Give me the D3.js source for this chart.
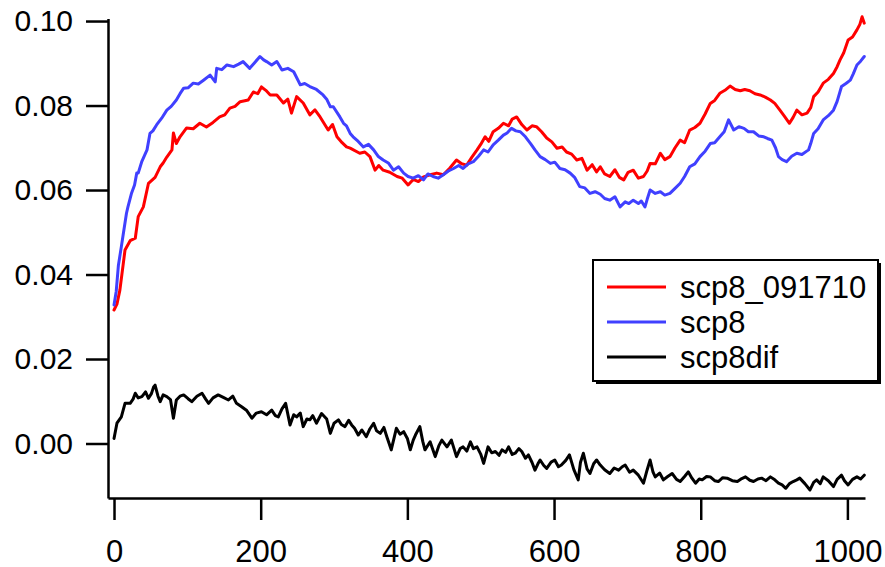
<!DOCTYPE html>
<html>
<head>
<meta charset="utf-8">
<script src="https://cdn.jsdelivr.net/npm/d3@7"></script>
<style>
  body { margin: 0; background: #fff; }
  svg { display: block; }
  text { font-family: "Liberation Sans", Arial, sans-serif; }
</style>
</head>
<body>
<svg id="chart" width="885" height="567"></svg>
<script>
// [x, value]
var scp8_091710 = [[0,0.0316],[4,0.033],[8,0.0363],[15,0.0458],[22,0.048],[29,0.0486],[33,0.0537],[40,0.056],[47,0.0616],[56,0.063],[63,0.0655],[67,0.0664],[72,0.0678],[79,0.0695],[81,0.0735],[85,0.071],[90,0.0726],[99,0.0747],[108,0.0745],[117,0.0758],[126,0.0749],[135,0.076],[144,0.0773],[151,0.0778],[158,0.0794],[165,0.0798],[172,0.0809],[183,0.0813],[190,0.0832],[196,0.0828],[201,0.0844],[207,0.0836],[213,0.0825],[222,0.0825],[231,0.0806],[237,0.0815],[242,0.0782],[249,0.0821],[258,0.0806],[267,0.0778],[274,0.079],[281,0.0773],[292,0.0742],[298,0.0755],[304,0.0726],[311,0.0712],[317,0.0702],[322,0.0699],[335,0.0687],[342,0.069],[349,0.0679],[356,0.0647],[361,0.0658],[367,0.0647],[376,0.0642],[386,0.0632],[393,0.0628],[401,0.0612],[408,0.0625],[415,0.062],[422,0.0631],[431,0.0636],[440,0.064],[449,0.0636],[458,0.0652],[467,0.0671],[474,0.0662],[481,0.0659],[488,0.0678],[495,0.0695],[500,0.0708],[506,0.0726],[511,0.0715],[517,0.0738],[524,0.0746],[531,0.0758],[538,0.0752],[543,0.0768],[549,0.0773],[556,0.0755],[563,0.0742],[570,0.0752],[576,0.075],[583,0.0738],[590,0.0723],[597,0.0714],[604,0.0699],[611,0.0702],[617,0.069],[624,0.0685],[631,0.0671],[638,0.0675],[645,0.0647],[652,0.066],[658,0.0643],[663,0.0655],[669,0.0638],[676,0.0632],[683,0.0648],[689,0.063],[695,0.0624],[701,0.0642],[708,0.0647],[715,0.0628],[722,0.0632],[727,0.0645],[731,0.0663],[738,0.0662],[745,0.0687],[751,0.0672],[758,0.0679],[765,0.07],[772,0.0718],[778,0.0712],[785,0.0742],[792,0.0748],[799,0.0758],[806,0.078],[813,0.0805],[819,0.0812],[826,0.0829],[833,0.0836],[840,0.0846],[847,0.0838],[854,0.0835],[860,0.0838],[867,0.0835],[874,0.0828],[881,0.0825],[888,0.082],[895,0.0813],[901,0.0805],[908,0.0789],[914,0.0775],[921,0.0758],[926,0.0772],[931,0.0789],[938,0.0778],[945,0.0782],[950,0.0795],[954,0.0821],[960,0.0832],[967,0.0853],[974,0.0862],[981,0.0876],[986,0.0892],[990,0.0908],[995,0.0925],[1001,0.0955],[1007,0.0962],[1013,0.0979],[1017,0.0992],[1020,0.101],[1023,0.0995]];

var scp8 = [[0,0.0328],[3,0.036],[6,0.0422],[10,0.0466],[13,0.05],[17,0.0545],[19,0.056],[24,0.0593],[28,0.0612],[31,0.064],[33,0.064],[38,0.0668],[45,0.0695],[49,0.0734],[53,0.074],[58,0.0754],[65,0.077],[72,0.0789],[78,0.0798],[85,0.0813],[90,0.0828],[95,0.0841],[101,0.0842],[108,0.0853],[115,0.0851],[122,0.086],[131,0.0872],[138,0.0856],[140,0.0888],[147,0.0885],[154,0.0896],[163,0.0892],[170,0.0898],[176,0.0904],[185,0.0888],[192,0.0902],[199,0.0916],[204,0.0908],[208,0.0904],[215,0.0896],[222,0.0904],[229,0.0884],[237,0.0888],[245,0.088],[254,0.0849],[260,0.0852],[267,0.0845],[276,0.0838],[285,0.0825],[290,0.0815],[295,0.0797],[299,0.0797],[308,0.0773],[313,0.0758],[317,0.0752],[322,0.0734],[326,0.0726],[333,0.0715],[340,0.0702],[347,0.0708],[354,0.0695],[360,0.068],[367,0.0671],[374,0.0664],[381,0.0647],[388,0.0655],[395,0.064],[401,0.0632],[408,0.0628],[415,0.0634],[422,0.0624],[428,0.0638],[435,0.0632],[442,0.0628],[449,0.0636],[456,0.0645],[463,0.0651],[470,0.0658],[476,0.0651],[483,0.0662],[490,0.0667],[497,0.068],[504,0.0695],[510,0.069],[517,0.0707],[524,0.0718],[531,0.073],[536,0.0735],[542,0.0746],[548,0.074],[554,0.0738],[561,0.0726],[568,0.071],[574,0.0695],[581,0.0679],[588,0.0672],[595,0.0663],[601,0.0666],[608,0.0651],[615,0.0648],[622,0.064],[628,0.063],[635,0.0608],[642,0.0605],[649,0.0592],[656,0.0596],[663,0.059],[669,0.058],[676,0.0576],[683,0.0584],[690,0.056],[697,0.0572],[702,0.0568],[708,0.0576],[715,0.0568],[719,0.0574],[724,0.056],[727,0.0578],[731,0.06],[738,0.0592],[745,0.0596],[751,0.0588],[758,0.0592],[765,0.0604],[772,0.0616],[778,0.0632],[785,0.0655],[792,0.0662],[799,0.0679],[806,0.0692],[813,0.071],[819,0.0712],[826,0.0726],[832,0.0738],[838,0.0766],[845,0.0742],[852,0.075],[859,0.0746],[865,0.0738],[872,0.0738],[879,0.0728],[886,0.0726],[891,0.0722],[897,0.0718],[902,0.07],[906,0.0679],[911,0.0672],[917,0.0667],[924,0.068],[931,0.0687],[938,0.0684],[947,0.0695],[950,0.071],[954,0.0734],[960,0.0745],[967,0.0766],[974,0.0776],[981,0.0789],[986,0.081],[992,0.0845],[998,0.0852],[1004,0.086],[1008,0.0875],[1013,0.0896],[1018,0.0905],[1023,0.0916]];

var scp8dif = [[0,0.0012],[4,0.0048],[10,0.0063],[15,0.0095],[22,0.0095],[26,0.0105],[29,0.0119],[33,0.0108],[38,0.0111],[43,0.0122],[47,0.0107],[51,0.0118],[54,0.0134],[56,0.0138],[60,0.0112],[63,0.0099],[67,0.0115],[72,0.0111],[77,0.0104],[81,0.006],[85,0.0103],[90,0.0112],[95,0.0115],[101,0.0106],[106,0.0099],[113,0.0112],[120,0.0119],[125,0.0105],[129,0.0095],[135,0.0108],[142,0.0115],[149,0.0109],[156,0.0103],[162,0.0112],[167,0.0095],[174,0.0087],[181,0.0078],[188,0.006],[194,0.0072],[201,0.0075],[208,0.0068],[215,0.0079],[220,0.0066],[224,0.0063],[229,0.0082],[234,0.0095],[240,0.0044],[245,0.0068],[249,0.0063],[254,0.0072],[258,0.004],[263,0.0058],[267,0.0056],[271,0.0066],[276,0.0048],[283,0.0071],[290,0.0058],[295,0.0024],[300,0.0048],[306,0.0056],[310,0.0045],[315,0.004],[320,0.0055],[324,0.0044],[328,0.0036],[333,0.002],[338,0.0032],[344,0.0016],[349,0.0035],[354,0.0048],[358,0.003],[363,0.0024],[368,0.0038],[372,0.0016],[378,-0.0015],[385,0.0036],[390,0.0022],[395,0.0028],[400,0.0012],[404,-0.0015],[408,0.0008],[411,0.002],[417,0.004],[421,0.0005],[424,-0.0015],[431,0.0004],[438,-0.0031],[443,-0.0005],[447,0.0008],[454,-0.0008],[460,0.0008],[467,-0.0031],[472,-0.0012],[476,-0.0008],[481,-0.0018],[486,0.0004],[490,-0.0012],[495,-0.0008],[500,-0.0025],[504,-0.0047],[510,-0.0008],[515,-0.0022],[520,-0.0019],[525,-0.0028],[529,-0.0015],[534,-0.0021],[538,-0.0008],[543,-0.0026],[547,-0.0023],[552,-0.0012],[556,-0.0019],[561,-0.0035],[565,-0.0027],[570,-0.0045],[574,-0.0063],[578,-0.0048],[581,-0.0039],[586,-0.0052],[590,-0.0059],[596,-0.0044],[601,-0.0039],[606,-0.0055],[610,-0.0051],[616,-0.004],[621,-0.0027],[627,-0.0062],[633,-0.0086],[636,-0.0045],[640,-0.0023],[645,-0.006],[649,-0.0071],[654,-0.0048],[658,-0.0039],[663,-0.0051],[669,-0.0062],[676,-0.0071],[682,-0.0058],[688,-0.0063],[693,-0.0055],[697,-0.0051],[703,-0.0068],[708,-0.0063],[715,-0.0075],[722,-0.0094],[727,-0.0062],[731,-0.0039],[735,-0.0068],[738,-0.0079],[744,-0.007],[749,-0.0086],[755,-0.0078],[761,-0.0071],[767,-0.0085],[772,-0.009],[778,-0.0078],[783,-0.0067],[788,-0.0082],[793,-0.0094],[798,-0.0084],[802,-0.0086],[808,-0.0078],[813,-0.0079],[819,-0.0088],[824,-0.009],[830,-0.0081],[836,-0.0082],[843,-0.0088],[850,-0.009],[856,-0.0083],[861,-0.0079],[867,-0.0087],[872,-0.009],[878,-0.0084],[883,-0.0082],[889,-0.0088],[895,-0.0079],[901,-0.0086],[906,-0.0094],[911,-0.0098],[916,-0.0106],[921,-0.0095],[926,-0.009],[931,-0.0086],[935,-0.0082],[942,-0.0095],[949,-0.011],[954,-0.0092],[958,-0.0086],[963,-0.0095],[967,-0.0079],[974,-0.0088],[981,-0.0102],[986,-0.0085],[992,-0.0075],[996,-0.0088],[1001,-0.0098],[1007,-0.0085],[1013,-0.0079],[1018,-0.0084],[1023,-0.0075]];

var seriesNames = ["scp8_091710", "scp8", "scp8dif"];
var seriesColors = ["#ff0000", "#4040ff", "#000000"];
var xTicks = [0, 200, 400, 600, 800, 1000];
var yTicks = [0.00, 0.02, 0.04, 0.06, 0.08, 0.10];

var svg = d3.select("#chart");

var x = d3.scaleLinear().domain([-8.2, 1024]).range([108, 865]);
var y = d3.scaleLinear().domain([-0.0129, 0.1006]).range([498, 18.5]);

/* axes */
var xAxis = d3.axisBottom(x)
	.tickValues(xTicks)
	.tickFormat(d3.format("d"))
	.tickSize(22)
	.tickSizeOuter(0)
	.tickPadding(20);

var yAxis = d3.axisLeft(y)
	.tickValues(yTicks)
	.tickFormat(d3.format(".2f"))
	.tickSize(22)
	.tickSizeOuter(0)
	.tickPadding(13);

var gx = svg.append("g")
	.attr("transform", "translate(0,498)")
	.call(xAxis);

var gy = svg.append("g")
	.attr("transform", "translate(108,0)")
	.call(yAxis);

[gx, gy].forEach(function(g) {
	g.selectAll("path, line")
		.attr("stroke", "#000")
		.attr("stroke-width", 2.5);
	g.selectAll("text")
		.attr("fill", "#000")
		.style("font-family", "'Liberation Sans', Arial, sans-serif");
});
gx.selectAll("text").attr("font-size", "31px");
gy.selectAll("text").attr("font-size", "30px");

/* traces */
var line = d3.line()
	.x(function(d) { return x(d[0]); })
	.y(function(d) { return y(d[1]); });

var traces = [scp8_091710, scp8, scp8dif];

svg.append("g")
	.selectAll("path")
	.data(traces)
	.enter()
	.append("path")
	.attr("d", line)
	.attr("fill", "none")
	.attr("stroke", function(d, i) { return seriesColors[i]; })
	.attr("stroke-width", 3)
	.attr("stroke-linejoin", "round")
	.attr("stroke-linecap", "round");

/* legend */
var legend = svg.append("g").attr("transform", "translate(593,260)");
var lw = 285, lh = 121;

legend.append("rect")
	.attr("x", 3).attr("y", 3)
	.attr("width", lw).attr("height", lh)
	.attr("fill", "#000");

legend.append("rect")
	.attr("x", 0).attr("y", 0)
	.attr("width", lw).attr("height", lh)
	.attr("fill", "#fff")
	.attr("stroke", "#000")
	.attr("stroke-width", 2);

var rows = legend.selectAll("g.row")
	.data(seriesNames)
	.enter()
	.append("g")
	.attr("class", "row")
	.attr("transform", function(d, i) { return "translate(0," + (27 + i * 35) + ")"; });

rows.append("line")
	.attr("x1", 14).attr("x2", 73)
	.attr("y1", 0).attr("y2", 0)
	.attr("stroke", function(d, i) { return seriesColors[i]; })
	.attr("stroke-width", 3);

rows.append("text")
	.attr("x", 87)
	.attr("dy", "0.35em")
	.attr("font-size", "31px")
	.attr("fill", "#000")
	.text(function(d) { return d; });
</script>
</body>
</html>
